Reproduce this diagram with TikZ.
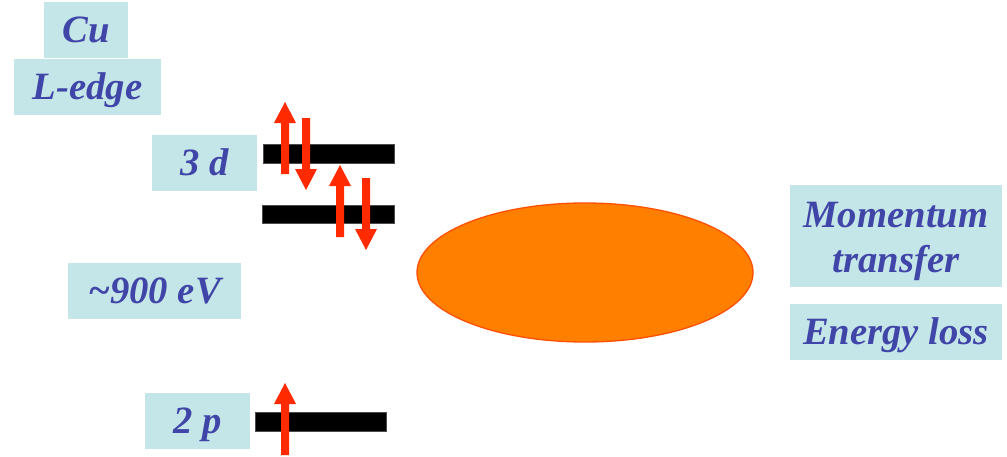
\documentclass[tikz,border=0pt]{standalone}
\usepackage{fontspec}
\setmainfont{Liberation Serif}
\usetikzlibrary{shapes.geometric}
\definecolor{boxfill}{RGB}{197,230,232}
\definecolor{txtblue}{RGB}{64,70,168}
\definecolor{spinred}{RGB}{255,42,0}
\definecolor{blobfill}{RGB}{255,127,0}
\definecolor{blobedge}{RGB}{255,80,0}
\newcommand\myupspin[3]{\fill[spinred] ({#1-4},{#2}) -- ({#1-4},{#3+21}) -- ({#1-11},{#3+21}) -- ({#1},{#3}) -- ({#1+11},{#3+21}) -- ({#1+4},{#3+21}) -- ({#1+4},{#2}) -- cycle;}
\newcommand\mydownspin[3]{\fill[spinred] ({#1-4},{#2}) -- ({#1-4},{#3-21}) -- ({#1-11},{#3-21}) -- ({#1},{#3}) -- ({#1+11},{#3-21}) -- ({#1+4},{#3-21}) -- ({#1+4},{#2}) -- cycle;}
\begin{document}
\begin{tikzpicture}[x=0.75pt,y=-0.75pt,
  lbl/.style={fill=boxfill, inner sep=0pt, minimum height=42pt, text=txtblue,
    font=\fontsize{29}{34}\selectfont\bfseries\itshape, text height=19.2pt, text depth=0pt},
  txt/.style={inner sep=0pt, text=txtblue, font=\fontsize{29}{34}\selectfont\bfseries\itshape},
  bar/.style={fill=black, draw=black!70, line width=0.5pt}]
\useasboundingbox (0,0) rectangle (1007,457);
% labels
\node[lbl, minimum width=63pt] (cu) at (86,30) {Cu};
\node[lbl, minimum width=110.25pt] (ledge) at (87.5,87) {L-edge};
\node[lbl, minimum width=78.75pt] (d3) at (204.5,163) {3 d};
\node[lbl, minimum width=129.75pt] (ev) at (154.5,291) {\textasciitilde900 eV};
\node[lbl, minimum width=78.75pt] (p2) at (197.5,421) {2 p};
\node[fill=boxfill, inner sep=0pt, minimum width=159pt, minimum height=76.5pt] (mom) at (896,236) {};
\node[txt, anchor=base] (momA) at (896,227) {Momentum};
\node[txt, anchor=base] (momB) at (896,272) {transfer};
\node[lbl, minimum width=159pt] (eloss) at (896,332) {Energy loss};
% ellipse
\node[ellipse, fill=blobfill, draw=blobedge, line width=1pt, inner sep=0pt,
  minimum width=252pt, minimum height=104.25pt] (blob) at (585,272.5) {};
% levels
\draw[bar] (263,144) rectangle (394,163);
\draw[bar] (262,205) rectangle (394,223);
\draw[bar] (255,412) rectangle (386,431);
% spins
\myupspin{285}{174}{102}
\mydownspin{306}{118}{190}
\myupspin{340}{237}{165}
\mydownspin{366}{178}{250}
\myupspin{285}{455}{383}
\end{tikzpicture}
\end{document}
